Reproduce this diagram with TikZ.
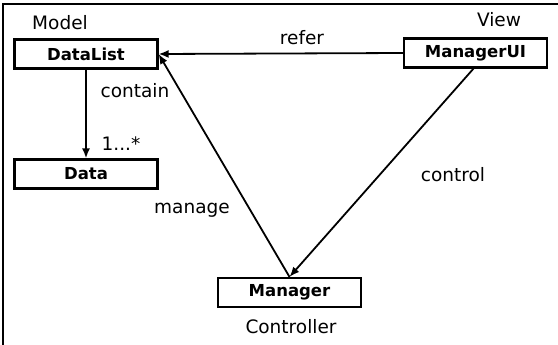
\documentclass[tikz,border=0pt]{standalone}
\usepackage{fontspec}
\setmainfont{DejaVu Sans}
\usetikzlibrary{arrows.meta}
\begin{document}
\begin{tikzpicture}[x=1pt,y=-1pt,
  cls/.style={draw,line width=2.2pt,minimum width=143pt,minimum height=29pt,inner sep=0pt,font=\fontsize{16.5}{19}\selectfont\bfseries},
  lbl/.style={inner sep=0pt,anchor=base,font=\fontsize{18.5}{22}\selectfont},
  conn/.style={line width=1.8pt},
  arr/.style={conn,-{Latex[length=10pt,width=8pt]}}]
\useasboundingbox (0,0) rectangle (558,345);
\draw[line width=1.6pt] (3,345) -- (3,4) -- (558,4);
\node[cls] (datalist) at (86,54) {DataList};
\node[cls] (data) at (86,174) {Data};
\node[cls] (managerui) at (475.5,53) {ManagerUI};
\node[cls] (manager) at (289.5,292.5) {Manager};
\node[lbl] (model) at (60,30) {Model};
\node[lbl] (view) at (499,27) {View};
\node[lbl] (refer) at (302,45) {refer};
\node[lbl] (contain) at (135,98) {contain};
\node[lbl] (mult) at (121,150) {1...*};
\node[lbl] (manage) at (192,214) {manage};
\node[lbl] (control) at (453,182) {control};
\node[lbl] (controller) at (291,333) {Controller};
\draw[arr] (datalist.south) -- (data.north);
\draw[arr] (managerui.west) -- (datalist.east);
\draw[arr] (manager.north) -- (datalist.east);
\coordinate (cstart) at ([xshift=-2pt]managerui.south);
\draw[arr] (cstart) -- (manager.north);
\end{tikzpicture}
\end{document}
